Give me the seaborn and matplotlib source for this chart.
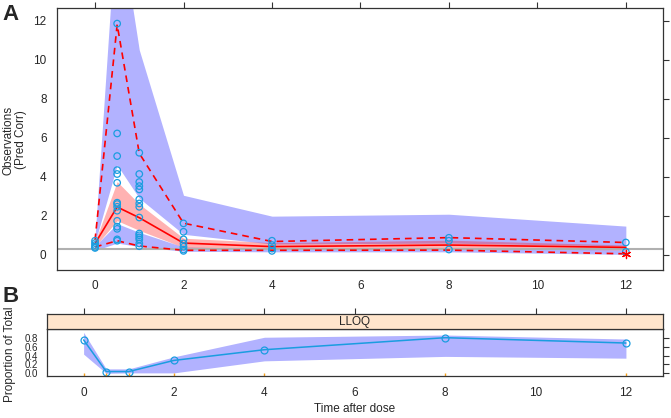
import numpy as np
import pandas as pd
import matplotlib
matplotlib.use("Agg")
import matplotlib.pyplot as plt
import seaborn as sns

sns.set_style("white")
plt.rcParams["font.family"] = ["Liberation Sans", "DejaVu Sans"]

# --- data ---
times = [0, 0.5, 1, 2, 4, 8, 12]

obs_0 = [0.72, 0.6, 0.5, 0.4, 0.35]
obs_05 = [11.85, 6.22, 5.06, 4.34, 4.14, 3.69, 2.67, 2.6, 2.46, 2.26, 1.74, 1.44, 1.33, 0.79, 0.72]
obs_1 = [5.23, 4.14, 3.73, 3.52, 3.35, 2.84, 2.63, 2.46, 1.91, 1.09, 1.0, 0.89, 0.79, 0.58, 0.44]
obs_2 = [1.61, 1.18, 0.79, 0.58, 0.41, 0.27, 0.2]
obs_4 = [0.72, 0.5, 0.32, 0.2]
obs_8 = [0.87, 0.72, 0.27]
obs_12 = [0.63, 0.15]

# simulated prediction intervals (shaded)
p95_lo = [0.62, 4.6, 2.9, 1.05, 0.55, 0.6, 0.45]
p95_hi = [0.92, 17.8, 10.5, 3.05, 1.98, 2.08, 1.47]
p50_lo = [0.42, 1.75, 1.25, 0.38, 0.3, 0.33, 0.24]
p50_hi = [0.66, 3.75, 2.6, 0.85, 0.62, 0.75, 0.5]
p05_lo = [0.22, 0.6, 0.42, 0.18, 0.15, 0.15, 0.02]
p05_hi = [0.45, 1.6, 1.15, 0.4, 0.32, 0.35, 0.25]

# observed percentiles (red lines)
obs_p50 = [0.58, 2.45, 1.9, 0.6, 0.42, 0.5, 0.38]
obs_p95 = [0.75, 11.8, 5.2, 1.62, 0.68, 0.88, 0.63]
obs_p05 = [0.4, 0.72, 0.45, 0.23, 0.23, 0.24, 0.05]
outside_t = [12]
outside_v = [0.05]
lloq = 0.3

# panel B: proportion below LLOQ
prop_obs = [0.75, 0.04, 0.04, 0.29, 0.53, 0.80, 0.68]
prop_lo = [0.43, 0.0, 0.01, 0.01, 0.28, 0.38, 0.34]
prop_hi = [0.92, 0.1, 0.1, 0.37, 0.81, 0.86, 0.77]

obs_groups = [obs_0, obs_05, obs_1, obs_2, obs_4, obs_8, obs_12]
df_obs = pd.DataFrame({
    "time": [t for t, g in zip(times, obs_groups) for _ in g],
    "value": [v for g in obs_groups for v in g],
})

W, H = 671, 418
PT = "#1a9de0"
EDGE = "#333333"
fig = plt.figure(figsize=(W / 100, H / 100), dpi=100)

def rect(l, t, r, b):
    return [l / W, 1 - b / H, (r - l) / W, (b - t) / H]

axA = fig.add_axes(rect(57, 8, 663, 270))
axB = fig.add_axes(rect(47, 329, 663, 376))
axS = fig.add_axes(rect(47, 314, 663, 329))

# ---- panel A ----
axA.fill_between(times, p95_lo, p95_hi, color="blue", alpha=0.3, lw=0)
axA.fill_between(times, p05_lo, p05_hi, color="blue", alpha=0.3, lw=0)
axA.fill_between(times, p50_lo, p50_hi, color="red", alpha=0.3, lw=0)
axA.axhline(lloq, color="#b0b0b0", lw=1.5, zorder=1)
sns.scatterplot(data=df_obs, x="time", y="value", ax=axA, marker="o",
                facecolors="none", edgecolor=PT, linewidth=0.9, s=22, zorder=4)
sns.lineplot(x=times, y=obs_p50, ax=axA, color="red", lw=1.2, zorder=3)
for series in (obs_p95, obs_p05):
    sns.lineplot(x=times, y=series, ax=axA, color="red", lw=1.2,
                 linestyle=(0, (4, 3)), zorder=3)
axA.scatter(outside_t, outside_v, marker=(6, 2, 0), color="red", s=35,
            linewidths=0.9, zorder=5)

axA.set_xlim(-0.86, 12.84)
axA.set_ylim(-0.78, 12.65)
axA.set_xticks(range(0, 13, 2))
axA.set_yticks(range(0, 13, 2))
axA.tick_params(axis="both", direction="out", length=4.5, width=0.8,
                color=EDGE, labelsize=8.5, pad=3,
                top=True, right=True, labeltop=False, labelright=False)
axA.set_xlabel("")
axA.set_ylabel("")

# ---- panel B ----
axB.fill_between(times, prop_lo, prop_hi, color="blue", alpha=0.3, lw=0)
sns.lineplot(x=times, y=prop_obs, ax=axB, color=PT, lw=1.1, marker="o",
             markersize=5, markerfacecolor="none", markeredgecolor=PT,
             markeredgewidth=0.9)
sns.rugplot(x=times, ax=axB, height=0.06, color="#f5a01a", lw=1.2)
axB.set_xlim(-0.81, 12.82)
axB.set_ylim(-0.06, 0.995)
axB.set_xticks(range(0, 13, 2))
axB.set_yticks([0.0, 0.2, 0.4, 0.6, 0.8])
axB.set_yticklabels(["0.0", "0.2", "0.4", "0.6", "0.8"])
axB.tick_params(axis="both", direction="out", length=4, width=0.8,
                color=EDGE, labelsize=8.5, pad=3, right=True, labelright=False)
axB.tick_params(axis="y", labelsize=7, pad=2.5)
axB.tick_params(axis="x", pad=4)
axB.set_xlabel("")
axB.set_ylabel("")

# strip
axS.set_facecolor("#ffe5cc")
axS.set_xlim(axB.get_xlim())
axS.set_ylim(0, 1)
axS.set_yticks([])
axS.set_xticks(range(0, 13, 2))
axS.tick_params(axis="x", direction="out", length=4, width=0.8, color=EDGE,
                top=True, bottom=False, labelbottom=False, labeltop=False)
axS.text(0.5, 0.5, "LLOQ", transform=axS.transAxes, ha="center", va="center",
         fontsize=8.5)

for ax in (axA, axB, axS):
    for sp in ax.spines.values():
        sp.set_color(EDGE)
        sp.set_linewidth(0.9)

fig.text(2 / W, 1 - 15 / H, "A", fontsize=16, fontweight="bold", va="center")
fig.text(2 / W, 1 - 296 / H, "B", fontsize=16, fontweight="bold", va="center")
fig.text(15 / W, 1 - 140 / H, "Observations\n(Pred Corr)", rotation=90,
         ha="center", va="center", fontsize=8.5, linespacing=1.1)
fig.text(10 / W, 1 - 354 / H, "Proportion of Total", rotation=90,
         ha="center", va="center", fontsize=8.5)
fig.text(355 / W, 1 - 409 / H, "Time after dose", ha="center", va="center",
         fontsize=8.5)

fig.savefig("out.png", dpi=100)
